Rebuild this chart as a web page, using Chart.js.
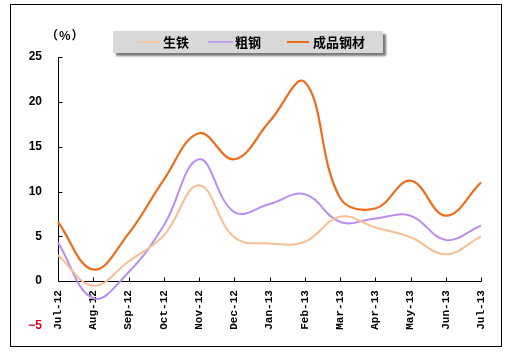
<!DOCTYPE html>
<html>
<head>
<meta charset="utf-8">
<script src="https://cdn.jsdelivr.net/npm/chart.js@4/dist/chart.umd.min.js"></script>
<style>
  html, body { margin:0; padding:0; background:#fff; }
  #wrap { position:relative; width:508px; height:352px; overflow:hidden; }
  #frame { position:absolute; left:10px; top:4px; width:490px; height:341px; border:1px solid #000; pointer-events:none; }
  canvas { position:absolute; left:0; top:0; }
  #unit { position:absolute; left:46px; top:26px; font:bold 12px "Noto Sans CJK SC", "Liberation Sans", sans-serif; color:#000; letter-spacing:1px; }
  #legend { position:absolute; left:113px; top:31px; width:270px; height:22px; background:#D8D8D8; box-shadow:3px 3px 2px #7a7a7a; }
  .lg-line { position:absolute; top:10px; height:2px; }
  .lg-text { position:absolute; top:2px; font:bold 13px "Noto Sans CJK SC", sans-serif; line-height:18px; color:#000; white-space:nowrap; }
</style>
</head>
<body>
<div id="wrap">
  <canvas id="c" width="508" height="352"></canvas>
  <div id="frame"></div>
  <div id="unit">（%）</div>
  <div id="legend"></div>
</div>
<script>
const categories = ["Jul-12","Aug-12","Sep-12","Oct-12","Nov-12","Dec-12","Jan-13","Feb-13","Mar-13","Apr-13","May-13","Jun-13","Jul-13"];
const seriesNames = ["生铁", "粗钢", "成品钢材"];
const pigIron = [2.9, -0.5, 2.2, 5.1, 10.7, 4.9, 4.2, 4.4, 7.2, 6.0, 4.9, 3.0, 5.0];
const crudeSteel = [4.3, -1.9, 1.0, 6.2, 13.6, 7.7, 8.6, 9.7, 6.6, 7.0, 7.3, 4.6, 6.2];
const finishedSteel = [6.6, 1.3, 5.3, 11.3, 16.5, 13.6, 17.8, 22.2, 9.3, 8.1, 11.2, 7.3, 11.0];
const yTicks = [-5, 0, 5, 10, 15, 20, 25];

const colors = ["#F7BE92", "#B98EF0", "#EE6C18"];
const legendColors = ["#F5C9A6", "#C0A0F0", "#EE6C18"];

const legendPos = [
  {line:[24, 23], text:50},
  {line:[95, 25], text:122},
  {line:[174, 22], text:200}
];
const lg = document.getElementById('legend');
seriesNames.forEach((n, i) => {
  const l = document.createElement('div');
  l.className = 'lg-line';
  l.style.left = legendPos[i].line[0] + 'px';
  l.style.width = legendPos[i].line[1] + 'px';
  l.style.background = legendColors[i];
  lg.appendChild(l);
  const t = document.createElement('div');
  t.className = 'lg-text';
  t.style.left = legendPos[i].text + 'px';
  t.textContent = n;
  lg.appendChild(t);
});

const axesPlugin = {
  id: 'customAxes',
  beforeDatasetsDraw(chart) {
    const ctx = chart.ctx;
    const xs = chart.scales.x, ys = chart.scales.y;
    const x0 = xs.getPixelForValue(0);
    const x1 = xs.getPixelForValue(categories.length - 1);
    const yZero = ys.getPixelForValue(0);
    const yTop = ys.getPixelForValue(25);
    ctx.save();
    ctx.strokeStyle = '#000';
    ctx.lineWidth = 1;
    ctx.beginPath();
    const ax = Math.round(x0) + 0.5;
    ctx.moveTo(ax, Math.round(yTop) + 0.5);
    ctx.lineTo(ax, Math.round(yZero) + 0.5);
    yTicks.filter(v => v >= 0).forEach(v => {
      const py = Math.round(ys.getPixelForValue(v)) + 0.5;
      ctx.moveTo(ax, py);
      ctx.lineTo(ax + 4, py);
    });
    const ay = Math.round(yZero) + 0.5;
    ctx.moveTo(ax, ay);
    ctx.lineTo(Math.round(x1) + 0.5, ay);
    categories.forEach((c, i) => {
      const px = Math.round(xs.getPixelForValue(i)) + 0.5;
      ctx.moveTo(px, ay);
      ctx.lineTo(px, ay - 4);
    });
    ctx.stroke();
    ctx.restore();
  }
};

new Chart(document.getElementById('c'), {
  type: 'line',
  data: {
    labels: categories,
    datasets: [
      { label: seriesNames[0], data: pigIron, borderColor: colors[0], borderWidth: 2, tension: 0.4, pointRadius: 0, fill: false },
      { label: seriesNames[1], data: crudeSteel, borderColor: colors[1], borderWidth: 2, tension: 0.4, pointRadius: 0, fill: false },
      { label: seriesNames[2], data: finishedSteel, borderColor: colors[2], borderWidth: 2.2, tension: 0.4, pointRadius: 0, fill: false }
    ]
  },
  options: {
    responsive: false,
    devicePixelRatio: 1,
    animation: false,
    layout: { padding: { left: 0, top: 57, right: 27, bottom: 26 } },
    plugins: { legend: { display: false }, tooltip: { enabled: false } },
    scales: {
      x: {
        type: 'category',
        position: { y: 0 },
        offset: false,
        grid: { display: false, drawTicks: false },
        border: { display: false },
        ticks: {
          minRotation: 90, maxRotation: 90, autoSkip: false, padding: 9,
          color: '#000',
          font: { family: '"Liberation Mono", "DejaVu Sans Mono", monospace', size: 11, weight: 'bold' }
        },
        afterFit(scale) { scale.height = 0; }
      },
      y: {
        min: -5, max: 25,
        grid: { display: false, drawTicks: false },
        border: { display: false },
        afterFit(scale) { scale.width = 58; },
        afterBuildTicks(scale) { scale.ticks = yTicks.map(v => ({ value: v })); },
        ticks: {
          padding: 16,
          color: (ctx) => ctx.tick && ctx.tick.value < 0 ? '#E0001B' : '#000',
          font: { family: '"Liberation Sans", Arial, sans-serif', size: 12, weight: 'bold' },
          callback: (v) => v < 0 ? '−' + Math.abs(v) : String(v)
        }
      }
    }
  },
  plugins: [axesPlugin]
});
</script>
</body>
</html>
